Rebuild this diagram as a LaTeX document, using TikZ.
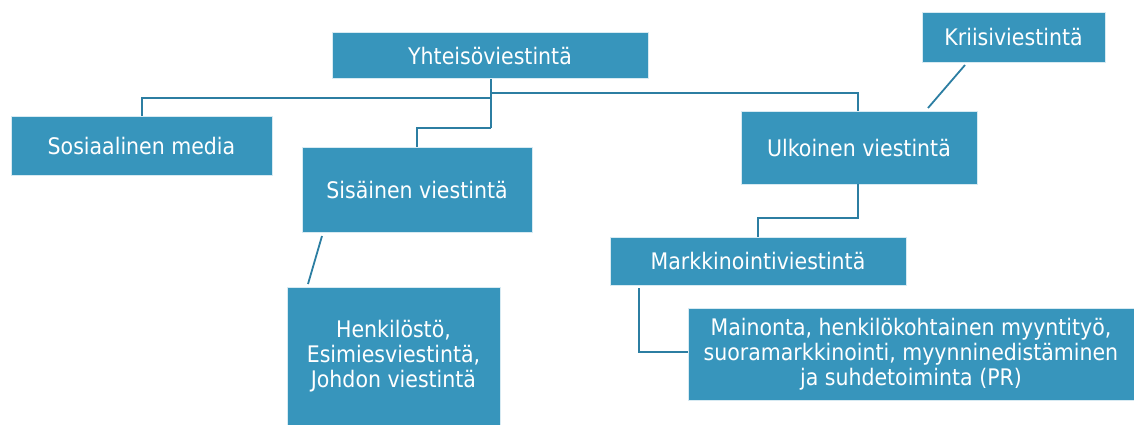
\documentclass[tikz,border=0pt]{standalone}
\usepackage{fontspec}
\setmainfont{DejaVu Sans Condensed}
\definecolor{boxblue}{HTML}{3795BC}
\definecolor{lineblue}{HTML}{2C7EA2}
\begin{document}
\begin{tikzpicture}[x=1pt,y=-1pt,
  box/.style={fill=boxblue,draw=white!80!boxblue,line width=0.6pt,text=white,font=\fontsize{22.8}{25}\selectfont,align=center,inner sep=0pt},
  link/.style={draw=lineblue,line width=1.8pt}]
\useasboundingbox (0,0) rectangle (1134,424);
\node[box,minimum width=316pt,minimum height=46pt] (yht) at (490,55.5) {Yhteisöviestintä};
\node[box,minimum width=183pt,minimum height=50pt] (krii) at (1013.5,37) {Kriisiviestintä};
\node[box,minimum width=261pt,minimum height=59pt] (some) at (141.5,145.5) {Sosiaalinen media};
\node[box,minimum width=230pt,minimum height=85pt] (sis) at (417,189.5) {Sisäinen viestintä};
\node[box,minimum width=236pt,minimum height=73pt] (ulk) at (859,147.5) {Ulkoinen viestintä};
\node[box,minimum width=296pt,minimum height=48pt] (mark) at (758,261) {Markkinointiviestintä};
\node[box,minimum width=213pt,minimum height=138pt] (henk) at (393.5,356) {Henkilöstö,\\Esimiesviestintä,\\Johdon viestintä};
\node[box,minimum width=446pt,minimum height=92pt] (main) at (911,354) {Mainonta, henkilökohtainen myyntityö,\\suoramarkkinointi, myynninedistäminen\\ja suhdetoiminta (PR)};
\coordinate (j1) at (491,128);
\draw[link] (yht.south -| j1) -- (j1);
\draw[link] (491,93) -- (858,93) -- (ulk.north -| 858,0);
\draw[link] (491,98) -- (142,98) -- (some.north -| 142,0);
\draw[link] (j1) -- (417,128) -- (sis.north);
\draw[link] (ulk.south -| 858,0) -- (858,218) -- (758,218) -- (mark.north);
\draw[link] (639,288) -- (639,352) -- (main.west |- 0,352);
\draw[link] (322,236) -- (308,284);
\draw[link] (965,65) -- (928,108);
\end{tikzpicture}
\end{document}
